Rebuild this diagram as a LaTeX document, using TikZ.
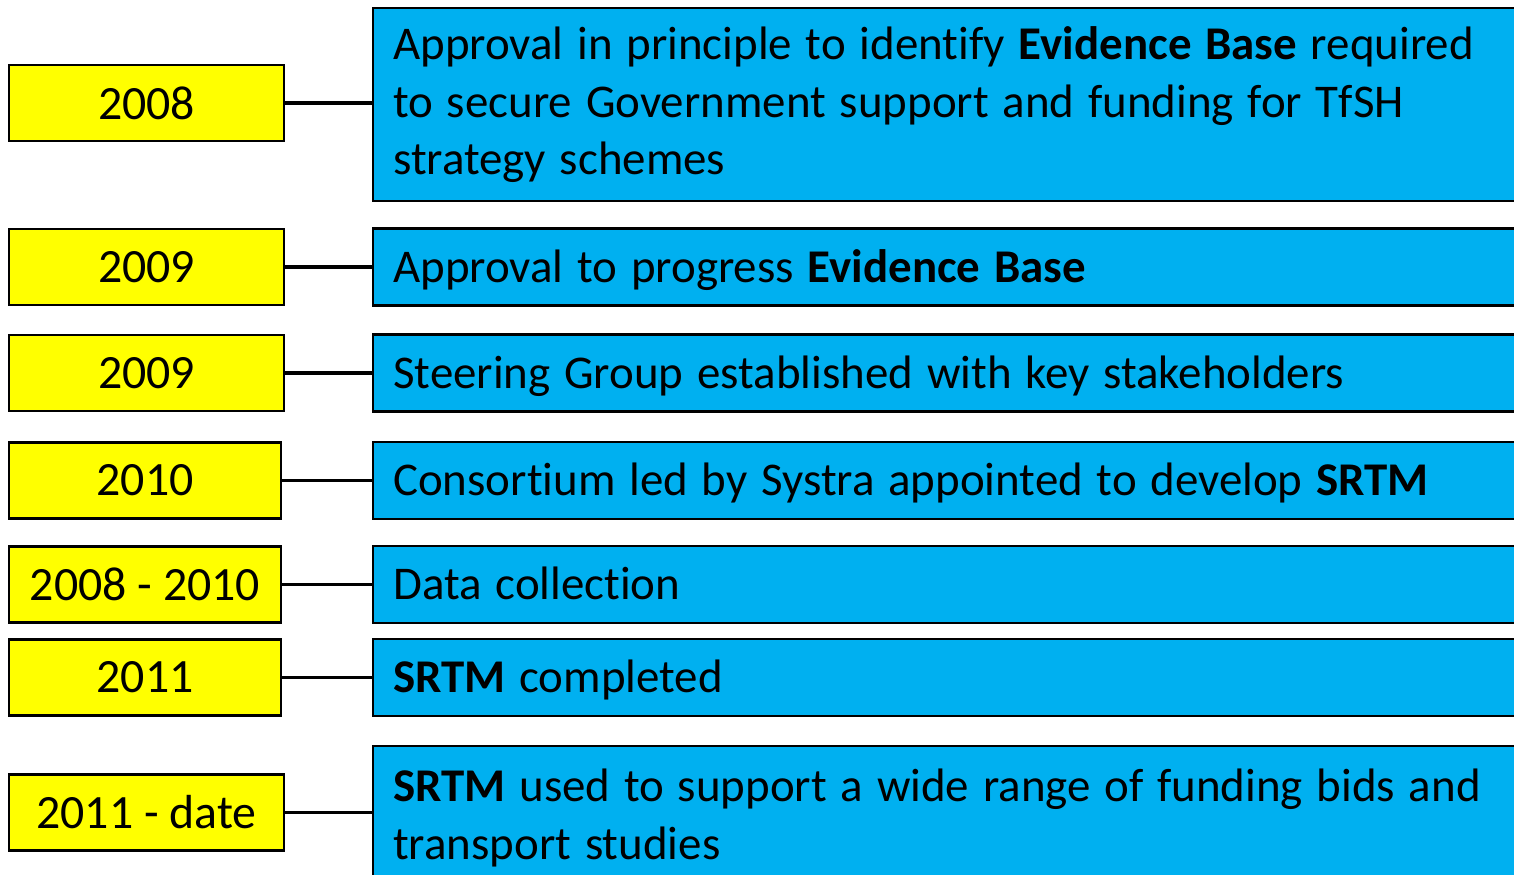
\documentclass[tikz,border=0pt]{standalone}
\usepackage{fontspec}
\setmainfont{Carlito}[Ligatures=NoCommon]
\newfontfamily\eventfont{Carlito}[Ligatures=NoCommon, WordSpace=1.3]
\definecolor{yearyellow}{HTML}{FFFF00}
\definecolor{eventblue}{HTML}{00B0F0}
\def\yearsize{\fontsize{13.6}{16.4}\selectfont}
\def\eventsize{\eventfont\fontsize{13.35}{16.4}\selectfont}
\def\xEvent{3.72}
\tikzset{
  yearbox/.style={draw=black, line width=0.7pt, fill=yearyellow, minimum height=0.76cm, inner sep=0pt, font=\yearsize},
  eventbox/.style={draw=black, line width=0.7pt, fill=eventblue, minimum width=11.8cm, minimum height=0.77cm, inner xsep=0.2cm, inner ysep=0pt, text width=11.4cm, align=flush left, font=\eventsize},
  eventline/.style={eventbox, anchor=west, text height=8.6pt, text depth=0pt},
  link/.style={line width=1pt}
}

\begin{document}
\begin{tikzpicture}

\useasboundingbox (0,0) rectangle (15.14,-8.75);
\clip (0,0) rectangle (15.14,-8.75);

% Years
\node[yearbox, minimum width=2.75cm] (y1) at (1.465,-1.03) {2008};
\node[yearbox, minimum width=2.75cm] (y2) at (1.465,-2.67) {2009};
\node[yearbox, minimum width=2.75cm] (y3) at (1.465,-3.73) {2009};
\node[yearbox, minimum width=2.72cm] (y4) at (1.45,-4.805) {2010};
\node[yearbox, minimum width=2.72cm] (y5) at (1.45,-5.845) {2008 - 2010};
\node[yearbox, minimum width=2.72cm] (y6) at (1.45,-6.775) {2011};
\node[yearbox, minimum width=2.75cm] (y7) at (1.465,-8.125) {2011 - date};

% Events
\node[eventbox, anchor=north west, minimum height=1.93cm] (e1) at (\xEvent,-0.07)
  {Approval in principle to identify \textbf{Evidence Base} required\\
   to secure Government support and funding for TfSH\\
   strategy schemes};
\node[eventline] (e2) at (\xEvent,-2.67) {Approval to progress \textbf{Evidence Base}};
\node[eventline] (e3) at (\xEvent,-3.73) {Steering Group established with key stakeholders};
\node[eventline] (e4) at (\xEvent,-4.805) {Consortium led by Systra appointed to develop \textbf{SRTM}};
\node[eventline] (e5) at (\xEvent,-5.845) {Data collection};
\node[eventline] (e6) at (\xEvent,-6.775) {\textbf{SRTM} completed};
\node[eventbox, anchor=north west, minimum height=1.93cm] (e7) at (\xEvent,-7.45)
  {\textbf{SRTM} used to support a wide range of funding bids and\\
   transport studies\\
   \mbox{}};

% Links
\foreach \i in {1,...,7} {
  \draw[link] (y\i.east) -- (y\i.east -| e\i.west);
}

\end{tikzpicture}
\end{document}
